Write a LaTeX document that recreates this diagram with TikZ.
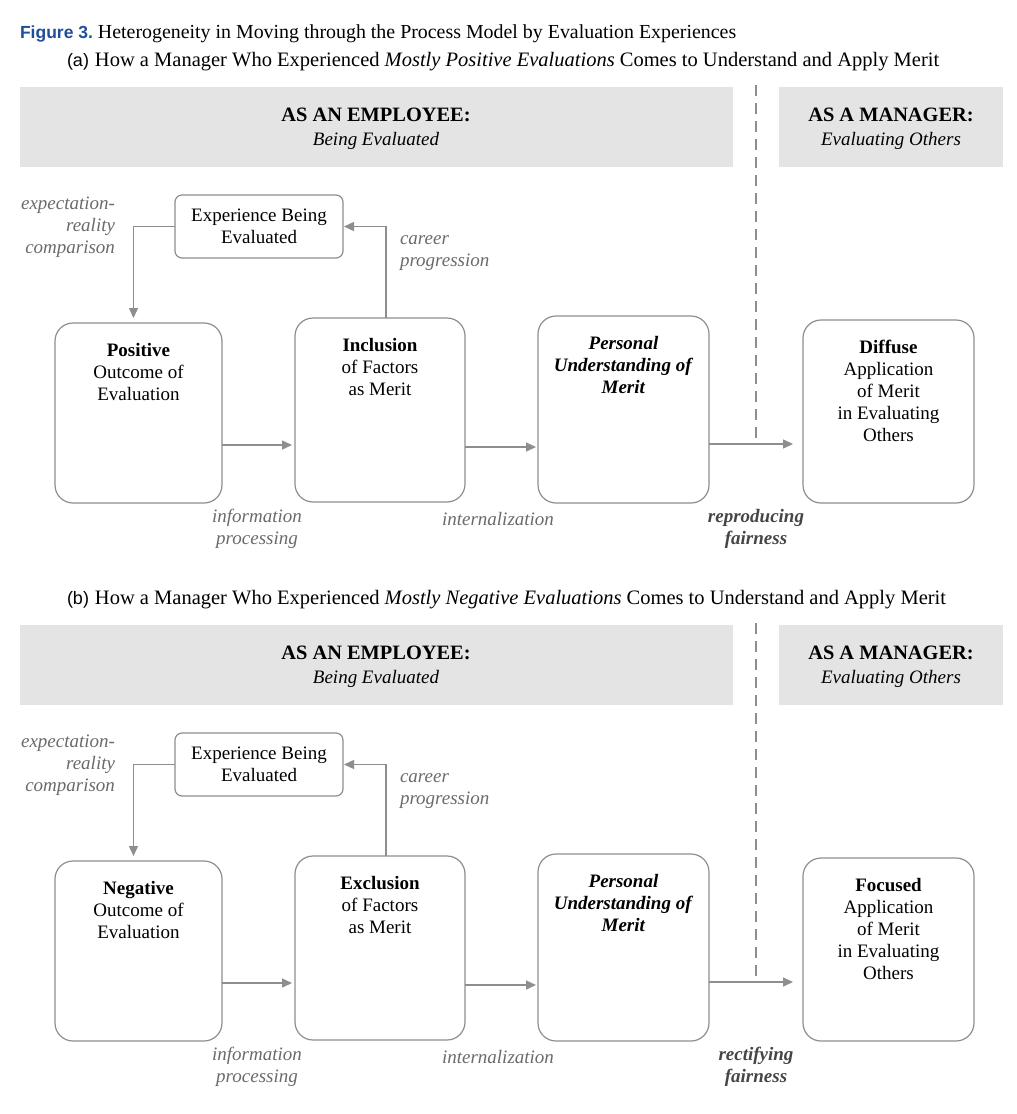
\documentclass[tikz,border=0pt]{standalone}
\usepackage{fontspec}
\setmainfont{Liberation Serif}
\setsansfont{Liberation Sans}
\usetikzlibrary{arrows.meta,calc}
\definecolor{hdrfill}{HTML}{E4E4E4}
\definecolor{edge}{HTML}{8E8E8E}
\definecolor{lbl}{HTML}{6A6A6A}
\definecolor{lbldark}{HTML}{454545}
\definecolor{figblue}{HTML}{1F4E9A}
\newcommand{\bodyfont}{\fontsize{19}{22}\selectfont}
\newcommand{\capfont}{\fontsize{20.5}{24}\selectfont}
\newcommand{\titlefont}{\fontsize{19.9}{24}\selectfont}
\begin{document}
\begin{tikzpicture}[x=1pt,y=-1pt,
  every node/.style={inner sep=0pt,outer sep=0pt},
  hdr/.style={fill=hdrfill,draw=none},
  hdrtext/.style={align=center,font=\fontsize{19}{24.5}\selectfont},
  stage/.style={draw=edge,line width=1.2pt,rounded corners=18pt,anchor=north west},
  smallstage/.style={draw=edge,line width=1.2pt,rounded corners=7pt,minimum width=168pt,minimum height=63pt,align=center,font=\bodyfont},
  stagetext/.style={anchor=north,align=center,font=\bodyfont,yshift=-20pt},
  flow/.style={draw=edge,line width=1.4pt,-{Triangle[length=10pt,width=9pt]},shorten >=3pt},
  divider/.style={draw=edge,line width=2.4pt,dash pattern=on 11pt off 7pt},
  note/.style={font=\bodyfont\itshape,text=lbl,align=center},
  noteleft/.style={font=\bodyfont\itshape,text=lbl,align=left},
  noteright/.style={font=\bodyfont\itshape,text=lbl,align=right},
  keynote/.style={font=\bodyfont\bfseries\itshape,text=lbldark,align=center}
]
\useasboundingbox (0,0) rectangle (1017,1114);

% figure caption
\node[anchor=base west] (cap) at (20,38) {{\sffamily\bfseries\fontsize{17.5}{20}\selectfont\color{figblue}Figure 3.}\hspace{5pt}{\titlefont Heterogeneity in Moving through the Process Model by Evaluation Experiences}};

% one panel of the process model
% #1 = vertical offset, #2 = panel prefix, #3 = subtitle emphasis,
% #4 = outcome word, #5 = factor word, #6 = application text, #7 #8 = transition label lines
\newcommand{\panel}[8]{%
\begin{scope}[yshift=-#1pt]
  \node[anchor=base west] (#2sub) at (67,66) {{\sffamily\fontsize{18}{20}\selectfont (#2)}\hspace{6pt}{\capfont How a Manager Who Experienced \textit{#3} Comes to Understand and Apply Merit}};
  % role headers
  \path[hdr] (20,87) rectangle (733,167);
  \node[hdrtext] (#2emp) at (376,129) {{\fontsize{20.4}{24.5}\selectfont\textbf{AS AN EMPLOYEE:}}\\\textit{Being Evaluated}};
  \path[hdr] (779,87) rectangle (1003,167);
  \node[hdrtext] (#2mgr) at (891,129) {{\fontsize{20.4}{24.5}\selectfont\textbf{AS A MANAGER:}}\\\textit{Evaluating Others}};
  % stages
  \node[smallstage] (#2exp) at (259,226.5) {Experience Being\\Evaluated};
  \node[stage,minimum width=167pt,minimum height=180pt] (#2out) at (55,323) {};
  \node[stagetext] (#2outt) at (#2out.north) {\textbf{#4}\\Outcome of\\Evaluation};
  \node[stage,minimum width=170pt,minimum height=184pt] (#2fac) at (295,318) {};
  \node[stagetext] (#2fact) at (#2fac.north) {\textbf{#5}\\of Factors\\as Merit};
  \node[stage,minimum width=171pt,minimum height=187pt] (#2per) at (538,316) {};
  \node[stagetext] (#2pert) at (#2per.north) {\textbf{\textit{Personal}}\\\textbf{\textit{Understanding of}}\\\textbf{\textit{Merit}}};
  \node[stage,minimum width=171pt,minimum height=183pt] (#2app) at (803,320) {};
  \node[stagetext] (#2appt) at (#2app.north) {#6};
  % employee / manager divider
  \coordinate (#2dtop) at (756,85);
  \coordinate (#2dbot) at (756,443);
  \draw[divider] (#2dtop) -- (#2dbot);
  % connectors
  \draw[flow] ([yshift=-32pt]#2out.east) -- ([yshift=-32pt]#2out.east -| #2fac.west);
  \draw[flow,shorten >=2pt] ([yshift=-37pt]#2fac.east) -- ([yshift=-37pt]#2fac.east -| #2per.west);
  \draw[flow,shorten >=10pt] ([yshift=-34.5pt]#2per.east) -- ([yshift=-34.5pt]#2per.east -| #2app.west);
  \draw[flow,shorten >=1pt] ([xshift=6pt]#2fac.north) |- (#2exp.east);
  \draw[flow,shorten >=5pt] (#2exp.west) -| ([xshift=-5pt]#2out.north);
  % transition labels
  \node[noteright,anchor=north east] (#2cmp) at (115,197) {expectation-\\reality\\comparison};
  \node[noteleft,anchor=north west] (#2car) at (400,236) {career\\progression};
  \node[note,anchor=north] (#2inf) at (257,509) {information\\processing};
  \node[note,anchor=north] (#2int) at (498,512) {internalization};
  \node[keynote,anchor=north] (#2fair) at (756,509) {#7\\#8};
\end{scope}}

\panel{0}{a}{Mostly Positive Evaluations}{Positive}{Inclusion}{\textbf{Diffuse}\\Application\\of Merit\\in Evaluating\\Others}{reproducing}{fairness}
\panel{538}{b}{Mostly Negative Evaluations}{Negative}{Exclusion}{\textbf{Focused}\\Application\\of Merit\\in Evaluating\\Others}{rectifying}{fairness}
\end{tikzpicture}
\end{document}
